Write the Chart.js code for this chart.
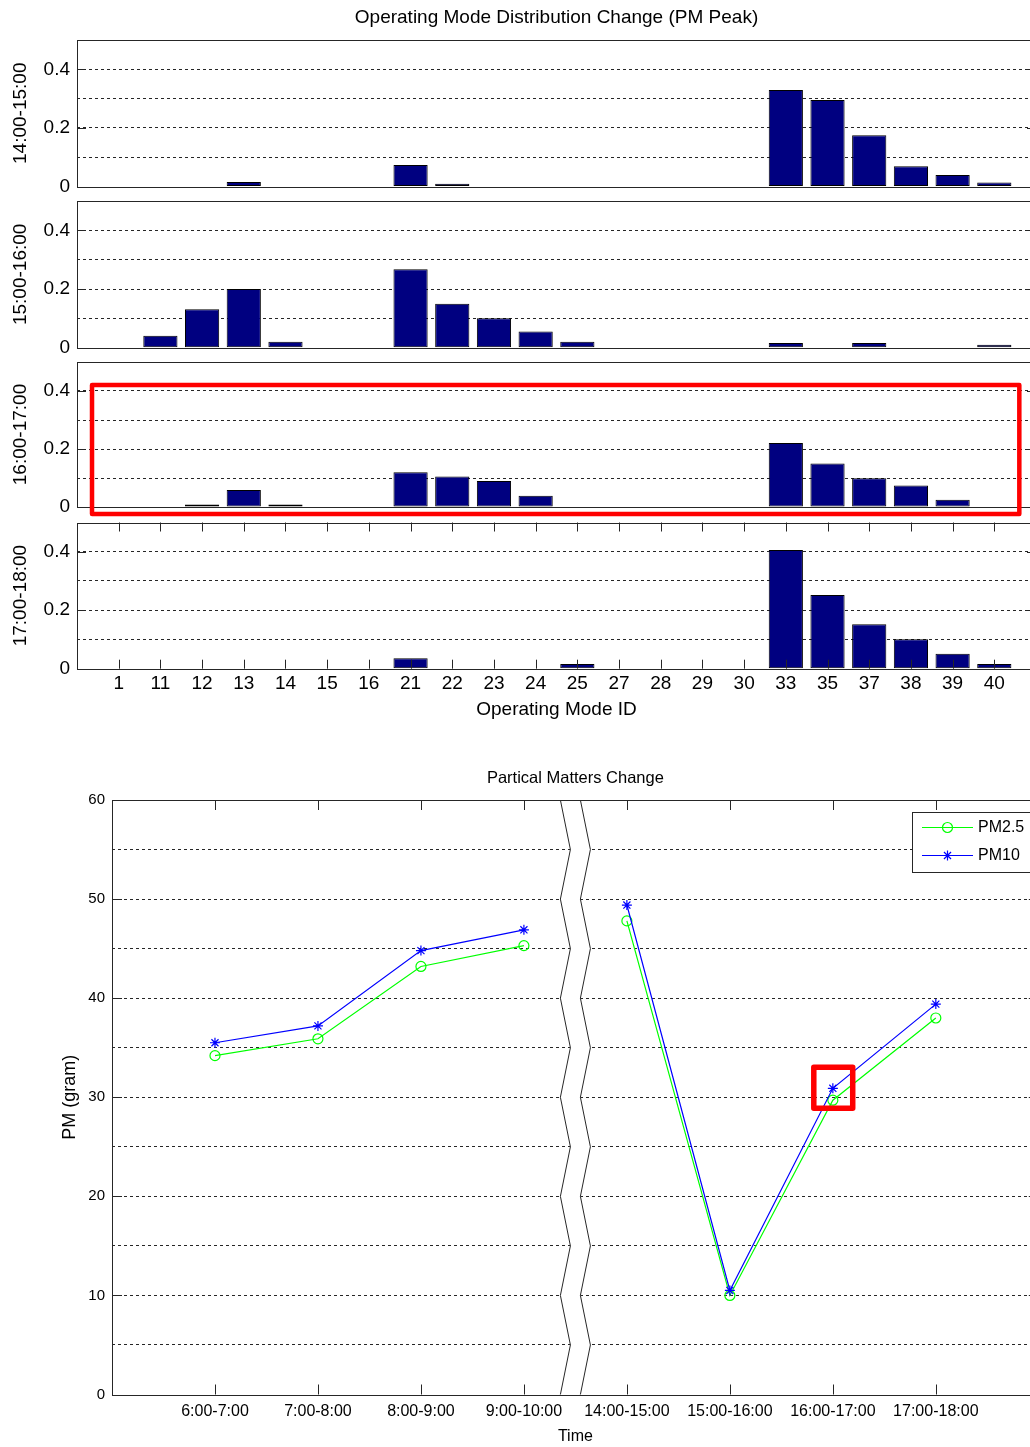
<!DOCTYPE html>
<html>
<head>
<meta charset="utf-8">
<title>Operating Mode Distribution Change (PM Peak)</title>
<script src="https://cdn.jsdelivr.net/npm/chart.js"></script>
<style>
  html, body { margin: 0; padding: 0; background: #fff; }
  #fig { position: relative; width: 1030px; height: 1447px; overflow: hidden; }
  #fig canvas { position: absolute; left: 0; }
</style>
</head>
<body>
<div id="fig">
  <canvas id="panel0" width="1040" height="205" style="top:0px"></canvas>
  <canvas id="panel1" width="1040" height="181" style="top:181px"></canvas>
  <canvas id="panel2" width="1040" height="183" style="top:342px"></canvas>
  <canvas id="panel3" width="1040" height="233" style="top:502px"></canvas>
  <canvas id="pmChart" width="1045" height="697" style="top:750px"></canvas>
</div>
<script>
// ---- data: operating mode shares per hour ----
var modeIds = ['1', '11', '12', '13', '14', '15', '16', '21', '22', '23', '24', '25',
               '27', '28', '29', '30', '33', '35', '37', '38', '39', '40'];
var periods = ['14:00-15:00', '15:00-16:00', '16:00-17:00', '17:00-18:00'];
var share1415 = [0, 0, 0, 0.015, 0, 0, 0, 0.073, 0.009, 0, 0, 0, 0, 0, 0, 0, 0.329, 0.295, 0.175, 0.069, 0.039, 0.014];
var share1516 = [0, 0.041, 0.131, 0.2, 0.02, 0, 0, 0.267, 0.15, 0.1, 0.055, 0.02, 0, 0, 0, 0, 0.016, 0, 0.016, 0, 0, 0.01];
var share1617 = [0, 0, 0.009, 0.059, 0.009, 0, 0, 0.12, 0.105, 0.09, 0.039, 0, 0, 0, 0, 0, 0.221, 0.15, 0.099, 0.074, 0.025, 0];
var share1718 = [0, 0, 0, 0, 0, 0, 0, 0.036, 0, 0, 0, 0.016, 0, 0, 0, 0, 0.406, 0.252, 0.152, 0.101, 0.051, 0.016];
var shareTicks = [0, 0.2, 0.4];

// ---- data: particulate matter per time slot ----
var timeSlots = ['6:00-7:00', '7:00-8:00', '8:00-9:00', '9:00-10:00',
                 '14:00-15:00', '15:00-16:00', '16:00-17:00', '17:00-18:00'];
var pm25 = [34.2, 35.9, 43.2, 45.3, 47.8, 10.0, 29.7, 38.0];
var pm10 = [35.5, 37.2, 44.8, 46.9, 49.4, 10.5, 30.9, 39.4];
var pmTicks = [0, 10, 20, 30, 40, 50, 60];

var panelData = [share1415, share1516, share1617, share1718];

// highlight boxes, in data units [x0, x1, y0, y1]
var modeBox = [0.36, 22.6, -0.024, 0.4205];
var pmBox = [6.815, 7.193, 28.9, 33.04];

var SANS = "'Liberation Sans', Arial, sans-serif";
var EDGE = '#262626';

var panelPad = [
  { top: 0, bottom: 18.5, left: 0, right: 4 },
  { top: 20, bottom: 14.3, left: 0, right: 4 },
  { top: 20, bottom: 18, left: 0, right: 4 },
  { top: 20.5, bottom: 11.3, left: 0, right: 4 }
];

function labelFor(v, list) {
  for (var i = 0; i < list.length; i++) {
    if (Math.abs(list[i] - v) < 1e-6) return String(list[i]);
  }
  return '';
}

function innerGrid(c) {
  var s = c.scale, v = c.tick.value;
  return (v > s.min + 1e-9 && v < s.max - 1e-9) ? EDGE : 'rgba(0,0,0,0)';
}

// matlab style box, inward ticks, axis break
var matlabAxes = {
  id: 'matlabAxes',
  afterDatasetsDraw: function(chart, args, o) {
    var a = chart.chartArea, ctx = chart.ctx, xs = chart.scales.x, ys = chart.scales.y;
    ctx.save();
    ctx.lineWidth = 1;
    ctx.strokeStyle = EDGE;

    if (o.breakAt != null) {
      var c = xs.getPixelForValue(o.breakAt);
      var pts = ys.ticks.map(function(t) {
        return [t.value % 10 === 0 ? -15 : -5, ys.getPixelForValue(t.value)];
      });
      ctx.beginPath();
      pts.forEach(function(p, i) { if (i) ctx.lineTo(c + p[0], p[1]); else ctx.moveTo(c + p[0], p[1]); });
      for (var i = pts.length - 1; i >= 0; i--) ctx.lineTo(c + pts[i][0] + 20, pts[i][1]);
      ctx.closePath();
      ctx.fillStyle = '#fff';
      ctx.fill();
      [0, 20].forEach(function(dx) {
        ctx.beginPath();
        pts.forEach(function(p, i) { if (i) ctx.lineTo(c + p[0] + dx, p[1]); else ctx.moveTo(c + p[0] + dx, p[1]); });
        ctx.stroke();
      });
    }

    var len = o.tickLen || 9;
    ctx.beginPath();
    if (o.xTicks) {
      xs.ticks.forEach(function(t) {
        var px = Math.round(xs.getPixelForValue(t.value)) + 0.5;
        ctx.moveTo(px, a.top); ctx.lineTo(px, a.top + len);
        ctx.moveTo(px, a.bottom); ctx.lineTo(px, a.bottom - len);
      });
    }
    if (o.yTicks) {
      o.yTicks.forEach(function(v) {
        var py = Math.round(ys.getPixelForValue(v)) + 0.5;
        ctx.moveTo(a.left, py); ctx.lineTo(a.left + len, py);
        ctx.moveTo(a.right, py); ctx.lineTo(a.right - len, py);
      });
    }
    ctx.stroke();
    ctx.strokeRect(Math.round(a.left) + 0.5, Math.round(a.top) + 0.5,
                   Math.round(a.right) - Math.round(a.left), Math.round(a.bottom) - Math.round(a.top));
    ctx.restore();
  }
};

var highlight = {
  id: 'highlight',
  afterDraw: function(chart, args, o) {
    if (!o.box) return;
    var xs = chart.scales.x, ys = chart.scales.y, ctx = chart.ctx;
    var x0 = xs.getPixelForValue(o.box[0]), x1 = xs.getPixelForValue(o.box[1]);
    var y0 = ys.getPixelForValue(o.box[3]), y1 = ys.getPixelForValue(o.box[2]);
    ctx.save();
    ctx.strokeStyle = '#ff0000';
    ctx.lineWidth = o.width || 4;
    ctx.lineJoin = 'round';
    ctx.strokeRect(x0, y0, x1 - x0, y1 - y0);
    ctx.restore();
  }
};

var boxLegend = {
  id: 'boxLegend',
  afterDraw: function(chart, args, o) {
    var a = chart.chartArea, ctx = chart.ctx;
    var left = Math.round(a.right - 127), top = Math.round(a.top + 12);
    ctx.save();
    ctx.fillStyle = '#fff';
    ctx.fillRect(left, top, 140, 60);
    ctx.strokeStyle = EDGE;
    ctx.lineWidth = 1;
    ctx.strokeRect(left + 0.5, top + 0.5, 140, 60);
    o.order.forEach(function(di, k) {
      var ds = chart.data.datasets[di];
      var y = top + 15 + k * 28;
      ctx.strokeStyle = ds.borderColor;
      ctx.lineWidth = ds.borderWidth;
      ctx.beginPath();
      ctx.moveTo(left + 10, y + 0.5);
      ctx.lineTo(left + 61, y + 0.5);
      ctx.stroke();
      ctx.fillStyle = 'rgba(0,0,0,0)';
      Chart.helpers.drawPoint(ctx, { pointStyle: ds.pointStyle, radius: ds.pointRadius, borderWidth: ds.pointBorderWidth, rotation: 0 }, left + 35.5, y + 0.5);
      ctx.fillStyle = '#000';
      ctx.font = '16px ' + SANS;
      ctx.textBaseline = 'middle';
      ctx.fillText(ds.label, left + 66, y + 1);
    });
    ctx.restore();
  }
};

function makePanel(k) {
  var last = k === panelData.length - 1;
  return new Chart(document.getElementById('panel' + k), {
    type: 'bar',
    data: {
      datasets: [{
        data: panelData[k].map(function(v, i) { return { x: i + 1, y: v }; }),
        backgroundColor: '#000080',
        borderColor: '#000',
        borderWidth: 1,
        borderSkipped: false,
        barPercentage: 0.82,
        categoryPercentage: 1
      }]
    },
    options: {
      responsive: false,
      animation: false,
      devicePixelRatio: 1,
      layout: { padding: panelPad[k] },
      plugins: {
        legend: { display: false },
        tooltip: { enabled: false },
        title: {
          display: k === 0,
          text: 'Operating Mode Distribution Change (PM Peak)',
          fullSize: false,
          color: '#000',
          font: { family: SANS, size: 19, weight: 'normal', lineHeight: 1.2 },
          padding: { top: 6.6, bottom: 10.6 }
        },
        matlabAxes: { xTicks: last, yTicks: shareTicks, tickLen: 9 },
        highlight: { box: k === 2 ? modeBox : null, width: 4.5 }
      },
      scales: {
        x: {
          type: 'linear',
          min: 0,
          max: modeIds.length + 1,
          offset: false,
          display: last,
          grid: { display: false, drawTicks: false, offset: false },
          border: { display: false },
          afterBuildTicks: function(s) {
            s.ticks = modeIds.map(function(_, i) { return { value: i + 1 }; });
          },
          afterFit: function(s) {
            if (last) s.height = 55;
            s.paddingLeft = 0; s.paddingRight = 0;
          },
          ticks: {
            autoSkip: false, maxRotation: 0, padding: 4, color: '#000',
            font: { family: SANS, size: 19, lineHeight: 1.2 },
            callback: function(v) { return modeIds[v - 1]; }
          },
          title: {
            display: true, text: 'Operating Mode ID', color: '#000',
            font: { family: SANS, size: 19, lineHeight: 1.2 },
            padding: { top: 0, bottom: 2.3 }
          }
        },
        y: {
          min: 0,
          max: 0.5,
          afterFit: function(s) { s.width = 77; s.paddingTop = 0; s.paddingBottom = 0; },
          ticks: {
            stepSize: 0.1, autoSkip: false, padding: 7, color: '#000',
            font: { family: SANS, size: 19, lineHeight: 1.2 },
            callback: function(v) { return labelFor(v, shareTicks); }
          },
          grid: { drawTicks: false, color: innerGrid, lineWidth: 1 },
          border: { display: false, dash: [3, 3] },
          title: {
            display: true, text: periods[k], color: '#000',
            font: { family: SANS, size: 19, lineHeight: 1.2 },
            padding: { top: 9.4 }
          }
        }
      }
    },
    plugins: [matlabAxes, highlight]
  });
}

for (var k = 0; k < panelData.length; k++) makePanel(k);

// ---- particulate matter line chart ----
var breakAfter = timeSlots.indexOf('9:00-10:00');
function gapColor(c) { return c.p0DataIndex === breakAfter ? 'rgba(0,0,0,0)' : undefined; }
function points(arr) { return arr.map(function(v, i) { return { x: i + 1, y: v }; }); }

new Chart(document.getElementById('pmChart'), {
  type: 'line',
  data: {
    datasets: [{
      label: 'PM2.5',
      data: points(pm25),
      borderColor: '#00ff00',
      borderWidth: 1.2,
      pointStyle: 'circle',
      pointRadius: 5,
      pointBorderColor: '#00ff00',
      pointBackgroundColor: 'rgba(0,0,0,0)',
      pointBorderWidth: 1.2,
      tension: 0,
      order: 2,
      segment: { borderColor: gapColor }
    }, {
      label: 'PM10',
      data: points(pm10),
      borderColor: '#0000ff',
      borderWidth: 1.2,
      pointStyle: 'star',
      pointRadius: 5,
      pointBorderColor: '#0000ff',
      pointBackgroundColor: 'rgba(0,0,0,0)',
      pointBorderWidth: 1.2,
      tension: 0,
      order: 1,
      segment: { borderColor: gapColor }
    }]
  },
  options: {
    responsive: false,
    animation: false,
    devicePixelRatio: 1,
    layout: { padding: { top: 0, bottom: 0, left: 0, right: 4 } },
    plugins: {
      legend: { display: false },
      tooltip: { enabled: false },
      title: {
        display: true,
        text: 'Partical Matters Change',
        fullSize: false,
        color: '#000',
        font: { family: SANS, size: 16.5, weight: 'normal', lineHeight: 1 },
        padding: { top: 19.75, bottom: 13.75 }
      },
      matlabAxes: { xTicks: true, yTicks: pmTicks, tickLen: 10, breakAt: breakAfter + 1.5 },
      highlight: { box: pmBox, width: 5.5 },
      boxLegend: { order: [0, 1] }
    },
    scales: {
      x: {
        type: 'linear',
        min: 0,
        max: timeSlots.length + 1,
        offset: false,
        grid: { display: false, drawTicks: false },
        border: { display: false },
        afterBuildTicks: function(s) {
          s.ticks = timeSlots.map(function(_, i) { return { value: i + 1 }; });
        },
        afterFit: function(s) { s.height = 52.5; s.paddingLeft = 0; s.paddingRight = 0; },
        ticks: {
          autoSkip: false, maxRotation: 0, padding: 7.9, color: '#000',
          font: { family: SANS, size: 16, lineHeight: 1.2 },
          callback: function(v) { return timeSlots[v - 1]; }
        },
        title: {
          display: true, text: 'Time', color: '#000',
          font: { family: SANS, size: 16, lineHeight: 1 },
          padding: { top: 0, bottom: 2 }
        }
      },
      y: {
        min: 0,
        max: 60,
        afterFit: function(s) { s.width = 112; s.paddingTop = 0; s.paddingBottom = 0; },
        ticks: {
          stepSize: 5, autoSkip: false, padding: 7, color: '#000',
          font: { family: SANS, size: 15, lineHeight: 1.2 },
          callback: function(v) { return labelFor(v, pmTicks); }
        },
        grid: { drawTicks: false, color: innerGrid, lineWidth: 1 },
        border: { display: false, dash: [3, 3] },
        title: {
          display: true, text: 'PM (gram)', color: '#000',
          font: { family: SANS, size: 18, lineHeight: 1.2 },
          padding: { top: 59.2 }
        }
      }
    }
  },
  plugins: [matlabAxes, highlight, boxLegend]
});
</script>
</body>
</html>
